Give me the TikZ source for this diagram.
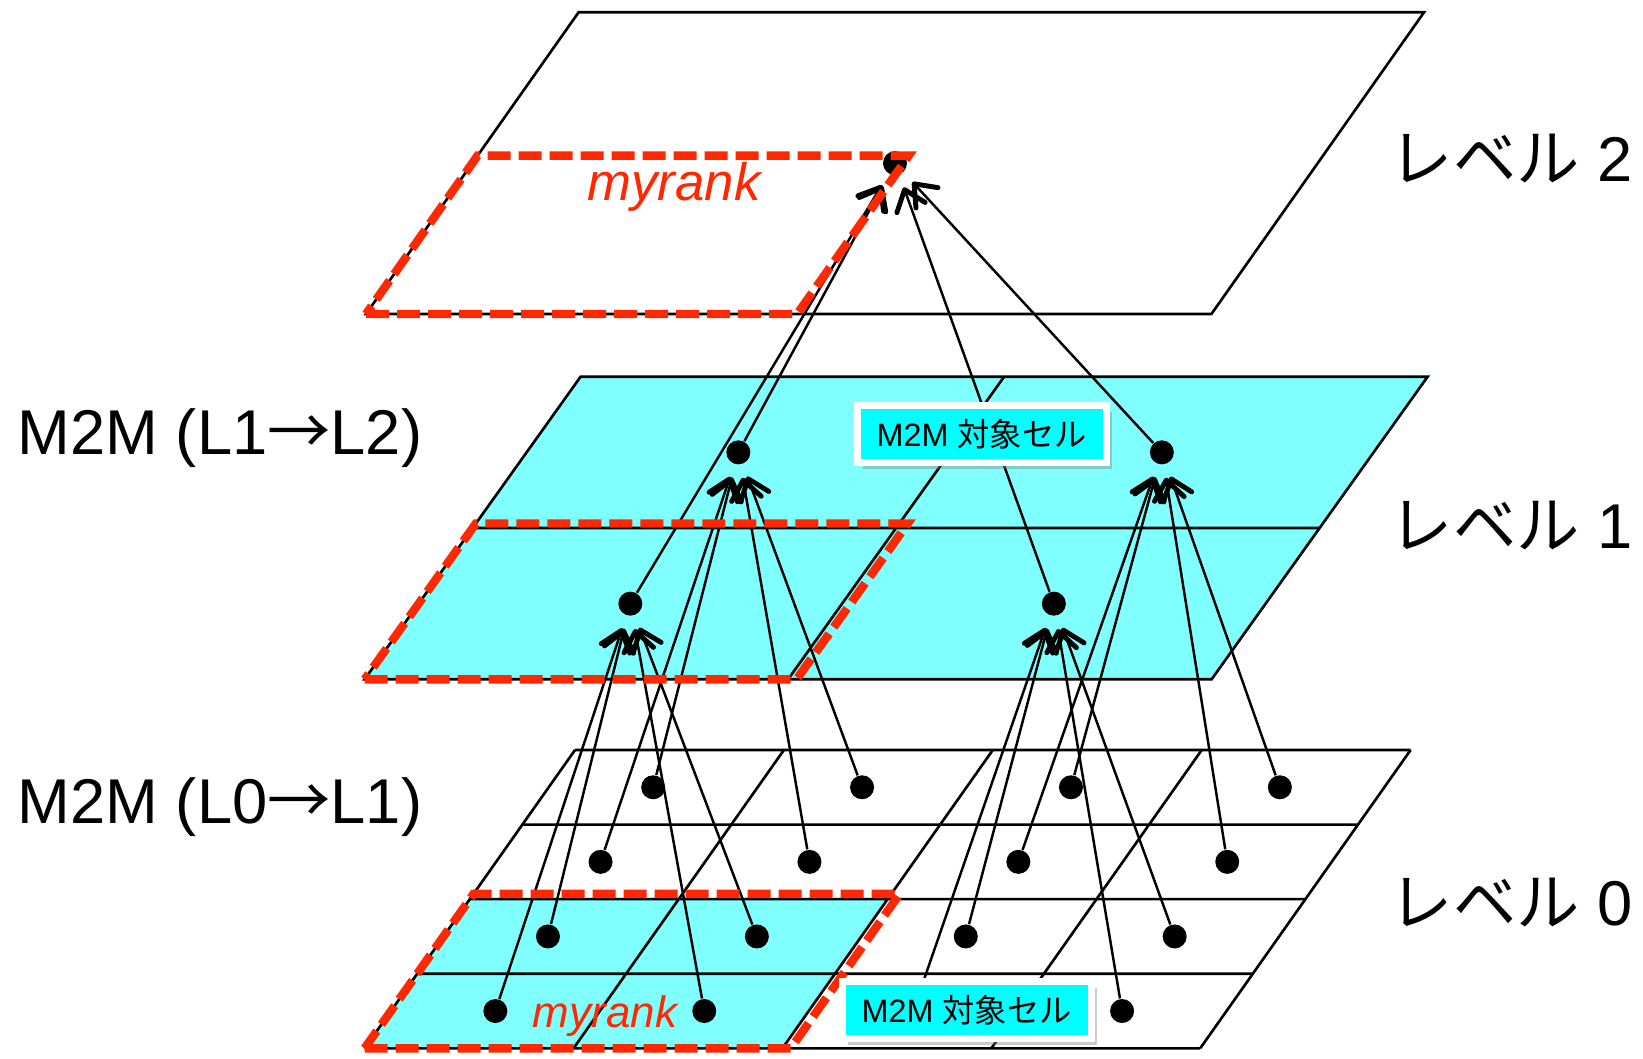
\documentclass[tikz,border=0pt]{standalone}
\usepackage{fontspec}
\setmainfont{Liberation Sans}
\newfontfamily\jpfont{Noto Sans CJK JP}
\usetikzlibrary{arrows.meta,shadows}
\definecolor{sheetcyan}{RGB}{128,255,255}
\definecolor{tagcyan}{RGB}{0,255,255}
\definecolor{rankred}{RGB}{255,40,0}
\tikzset{
  lv0/.style={shift={(3.646cm,0.097cm)},x={(2.089cm,0cm)},y={(0.526cm,0.7458cm)}},
  lv1/.style={shift={(3.646cm,3.787cm)},x={(4.235cm,0cm)},y={(1.08cm,1.513cm)}},
  lv2/.style={shift={(3.66cm,7.44cm)},x={(4.227cm,0cm)},y={(1.063cm,1.5085cm)}},
  plane/.style={draw=black,line width=0.75pt},
  cdot/.style={circle,fill=black,inner sep=0pt,minimum size=2.4mm},
  m2m/.style={-{Straight Barb[round,length=1.9mm,width=3mm,line width=1.4pt]},
    line width=0.7pt,shorten >=1.3mm},
  mine/.style={draw=rankred,line width=2.4pt,dash pattern=on 2.3mm off 0.8mm},
  lvtext/.style={font=\fontsize{18}{20}\selectfont},
  rktext/.style={text=rankred,font=\fontsize{15}{17}\selectfont\itshape},
  target/.style={fill=tagcyan,draw=white,line width=0.07cm,inner sep=0pt,
    minimum width=2.49cm,minimum height=0.57cm,font=\fontsize{9.2}{10}\selectfont,
    drop shadow={opacity=0.4,shadow xshift=0.06cm,shadow yshift=-0.06cm}}
}
\begin{document}
\begin{tikzpicture}
  \useasboundingbox (0,0) rectangle (16.43,10.58);
  % level 2
  \begin{scope}[lv2]
    \filldraw[plane,fill=white] (0,0) -- (2,0) -- (2,2) -- (0,2) -- cycle;
    \node[cdot] (c2) at (1,1) {};
  \end{scope}
  % level 1
  \begin{scope}[lv1]
    \filldraw[plane,fill=sheetcyan] (0,0) -- (2,0) -- (2,2) -- (0,2) -- cycle;
    \draw[plane] (1,0) -- (1,2) (0,1) -- (2,1);
    \foreach \i in {0,1} \foreach \j in {0,1}
      \node[cdot] (c1-\i-\j) at (\i+.5,\j+.5) {};
  \end{scope}
  % level 0
  \begin{scope}[lv0]
    \fill[white] (0,0) -- (4,0) -- (4,4) -- (0,4) -- cycle;
    \fill[sheetcyan] (0,0) -- (2,0) -- (2,2) -- (0,2) -- cycle;
    \foreach \k in {0,...,4}
      \draw[plane] (\k,0) -- (\k,4) (0,\k) -- (4,\k);
    \foreach \i in {0,...,3} \foreach \j in {0,...,3}
      \node[cdot] (c0-\i-\j) at (\i+.5,\j+.5) {};
  \end{scope}
  % M2M
  \foreach \i in {0,1} \foreach \j in {0,1} {
    \foreach \a/\b in {0/0,1/0,0/1,1/1} {
      \pgfmathtruncatemacro\p{2*\i+\a}
      \pgfmathtruncatemacro\q{2*\j+\b}
      \draw[m2m] (c0-\p-\q) -- (c1-\i-\j);
    }
    \draw[m2m] (c1-\i-\j) -- (c2);
  }
  % myrank
  \begin{scope}[lv2]
    \draw[mine] (0,0) -- (1.02,0) -- (1.02,1.05) -- (0,1.05) -- cycle;
  \end{scope}
  \begin{scope}[lv1]
    \draw[mine] (0,0) -- (1.02,0) -- (1.02,1.03) -- (0,1.03) -- cycle;
  \end{scope}
  \begin{scope}[lv0]
    \draw[mine] (0,0) -- (2.04,0) -- (2.04,2.07) -- (0,2.07) -- cycle;
  \end{scope}
  \node[rktext] (rk2) at (6.74,8.715) {myrank};
  \node[rktext,font=\fontsize{12.5}{14}\selectfont\itshape] (rk0) at (6.05,0.42) {myrank};
  \node[target] (tg1) at (9.817,6.24) {M2M {\jpfont 対象セル}};
  \node[target] (tg0) at (9.667,0.48) {M2M {\jpfont 対象セル}};
  % labels
  \node[lvtext] (t2) at (15.11,8.99) {{\jpfont レベル} 2};
  \node[lvtext] (t1) at (15.11,5.32) {{\jpfont レベル} 1};
  \node[lvtext] (t0) at (15.11,1.55) {{\jpfont レベル} 0};
  \node[lvtext] (m12) at (2.20,6.20) {M2M (L1{\jpfont →}L2)};
  \node[lvtext] (m01) at (2.20,2.51) {M2M (L0{\jpfont →}L1)};
\end{tikzpicture}
\end{document}
